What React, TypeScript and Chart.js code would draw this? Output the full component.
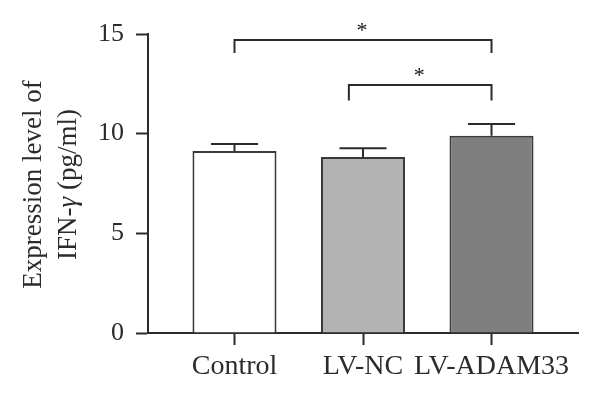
import React, { useEffect, useRef } from "react";
import { Chart, registerables } from "chart.js";
Chart.register(...registerables);

const categories = ["Control", "LV-NC", "LV-ADAM33"];
const positions = [1, 2, 3];
const means = [9.13, 8.83, 9.9];
const errors = [0.35, 0.44, 0.59];
const barColors = ["#ffffff", "#b3b3b3", "#7f7f7f"];
const yTicks = [0, 5, 10, 15];
const bracketX1 = [1, 1.89];
const bracketX2 = [3, 3];
const bracketY = [14.7, 12.44];
const bracketDrop = [14.05, 11.66];
const bracketLabels = ["*", "*"];
const titleLine1 = "Expression level of";
const titleLine2Parts = ["IFN-", "\u03B3", " (pg/ml)"];

const FONT = "'Liberation Serif', 'Times New Roman', serif";
const INK = "#2b2b2b";

const overlayPlugin = {
  id: "overlay",
  afterDatasetsDraw(chart: any) {
    const ctx = chart.ctx;
    const xs = chart.scales.x;
    const ys = chart.scales.y;
    const meta = chart.getDatasetMeta(0);
    ctx.save();
    ctx.strokeStyle = INK;
    ctx.lineWidth = 2;
    // error bars
    meta.data.forEach((bar: any, i: number) => {
      const cx = bar.x;
      const yTop = ys.getPixelForValue(means[i]);
      const yErr = ys.getPixelForValue(means[i] + errors[i]);
      const half = bar.width * 0.28;
      ctx.beginPath();
      ctx.moveTo(cx, yTop);
      ctx.lineTo(cx, yErr);
      ctx.moveTo(cx - half, yErr);
      ctx.lineTo(cx + half, yErr);
      ctx.stroke();
    });
    // significance brackets
    for (let i = 0; i < bracketX1.length; i++) {
      const x1 = xs.getPixelForValue(bracketX1[i]);
      const x2 = xs.getPixelForValue(bracketX2[i]);
      const y = ys.getPixelForValue(bracketY[i]);
      const yd = ys.getPixelForValue(bracketDrop[i]);
      ctx.beginPath();
      ctx.moveTo(x1, yd);
      ctx.lineTo(x1, y);
      ctx.lineTo(x2, y);
      ctx.lineTo(x2, yd);
      ctx.stroke();
      ctx.fillStyle = "#111";
      ctx.font = `22px ${FONT}`;
      ctx.textAlign = "center";
      ctx.textBaseline = "alphabetic";
      ctx.fillText(bracketLabels[i], (x1 + x2) / 2 - 1, y - 3);
    }
    // y title
    const ca = chart.chartArea;
    const cy = (ca.top + ca.bottom) / 2 + 1;
    ctx.fillStyle = INK;
    ctx.textBaseline = "middle";
    ctx.textAlign = "center";
    ctx.translate(0, cy);
    ctx.rotate(-Math.PI / 2);
    ctx.font = `27px ${FONT}`;
    ctx.fillText(titleLine1, 0, 34);
    const fonts = [`27px ${FONT}`, `italic 27px ${FONT}`, `27px ${FONT}`];
    let total = 0;
    const widths = titleLine2Parts.map((p, k) => {
      ctx.font = fonts[k];
      const w = ctx.measureText(p).width;
      total += w;
      return w;
    });
    let x = -total / 2;
    ctx.textAlign = "left";
    titleLine2Parts.forEach((p, k) => {
      ctx.font = fonts[k];
      ctx.fillText(p, x, 69);
      x += widths[k];
    });
    ctx.restore();
  },
};

export default function App() {
  const ref = useRef<HTMLCanvasElement>(null);
  useEffect(() => {
    document.body.style.margin = "0";
    const chart = new Chart(ref.current!, {
      type: "bar",
      data: {
        datasets: [
          {
            data: positions.map((x, i) => ({ x, y: means[i] })),
            backgroundColor: barColors,
            borderColor: "#3a3a3a",
            borderWidth: 2,
            borderSkipped: "bottom",
            categoryPercentage: 1,
            barPercentage: 0.654,
          },
        ],
      },
      options: {
        animation: false,
        responsive: true,
        maintainAspectRatio: false,
        layout: { padding: { top: 34, right: 22, left: 0, bottom: 0 } },
        plugins: { legend: { display: false }, tooltip: { enabled: false } },
        scales: {
          x: {
            type: "linear",
            offset: false,
            min: 0.327,
            max: 3.673,
            afterBuildTicks: (s: any) => {
              s.ticks = positions.map((v) => ({ value: v }));
            },
            afterFit: (s: any) => {
              s.height = 65;
            },
            grid: { offset: false, drawOnChartArea: false, tickLength: 12, tickColor: INK, tickWidth: 2 },
            border: { color: INK, width: 2 },
            ticks: {
              padding: 5,
              color: INK,
              font: { family: FONT, size: 28 },
              maxRotation: 0,
              autoSkip: false,
              callback: (v: any) => categories[positions.indexOf(Number(v))] ?? "",
            },
          },
          y: {
            min: 0,
            max: 15,
            afterBuildTicks: (s: any) => {
              s.ticks = yTicks.map((v) => ({ value: v }));
            },
            afterFit: (s: any) => {
              s.width = 148;
            },
            grid: { drawOnChartArea: false, tickLength: 12, tickColor: INK, tickWidth: 2 },
            border: { color: INK, width: 2 },
            ticks: {
              padding: 12,
              color: INK,
              font: { family: FONT, size: 26 },
            },
          },
        },
      },
      plugins: [overlayPlugin],
    } as any);
    return () => chart.destroy();
  }, []);
  return (
    <div style={{ width: 600, height: 398, position: "relative" }}>
      <canvas ref={ref} />
    </div>
  );
}
